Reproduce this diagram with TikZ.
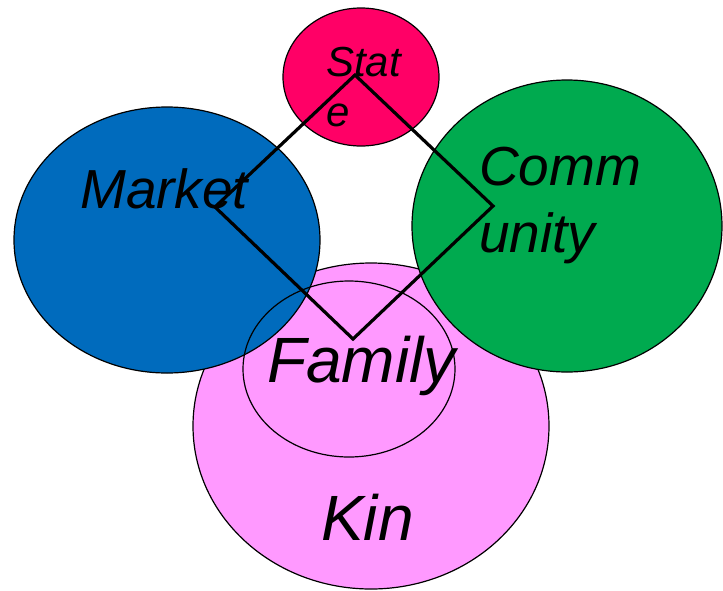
\documentclass[tikz,border=0pt]{standalone}
\usepackage{fontspec}
\setmainfont{Liberation Sans}
\usepackage{tikz}
\definecolor{statered}{HTML}{FF0066}
\definecolor{marketblue}{HTML}{006BBD}
\definecolor{commgreen}{HTML}{00AA4F}
\definecolor{kinpink}{HTML}{FF99FF}

\begin{document}
\begin{tikzpicture}[x=1pt,y=-1pt,
    blob/.style={draw=black, line width=1.2pt},
    tie/.style={draw=black, line width=3.2pt, line join=miter},
    lbl/.style={anchor=base west, inner sep=0pt, font=\itshape}]
    \useasboundingbox (0,0) rectangle (723,590);
    % the circles
    \draw[blob, fill=kinpink] (371,426) ellipse [x radius=178pt, y radius=163pt];
    \draw[blob, fill=marketblue] (167,240) ellipse [x radius=153pt, y radius=133pt];
    \draw[blob, fill=commgreen] (567,226) ellipse [x radius=155pt, y radius=146pt];
    \draw[blob, fill=statered] (361,77) ellipse [x radius=78pt, y radius=69pt];
    \draw[blob] (349,369) ellipse [x radius=106pt, y radius=88pt];
    % the diamond
    \coordinate (top) at (355,75);
    \coordinate (left) at (215,207);
    \coordinate (bottom) at (353,339);
    \coordinate (right) at (493,206);
    \draw[tie] (top) -- (left) -- (bottom) -- (right) -- cycle;
    % labels
    \node[lbl, font=\itshape\fontsize{42}{49}\selectfont] (state) at (326,76) {Stat};
    \node[lbl, font=\itshape\fontsize{42}{49}\selectfont] (statee) at (326,126) {e};
    \node[lbl, font=\itshape\fontsize{55}{66}\selectfont] (market) at (80,208) {Market};
    \node[lbl, font=\itshape\fontsize{55}{66}\selectfont] (comm) at (479,185) {Comm};
    \node[lbl, font=\itshape\fontsize{55}{66}\selectfont] (unity) at (479,252) {unity};
    \node[lbl, font=\itshape\fontsize{64}{76}\selectfont] (family) at (267,382) {Family};
    \node[lbl, font=\itshape\fontsize{64}{76}\selectfont] (kin) at (321,540) {Kin};
\end{tikzpicture}
\end{document}
